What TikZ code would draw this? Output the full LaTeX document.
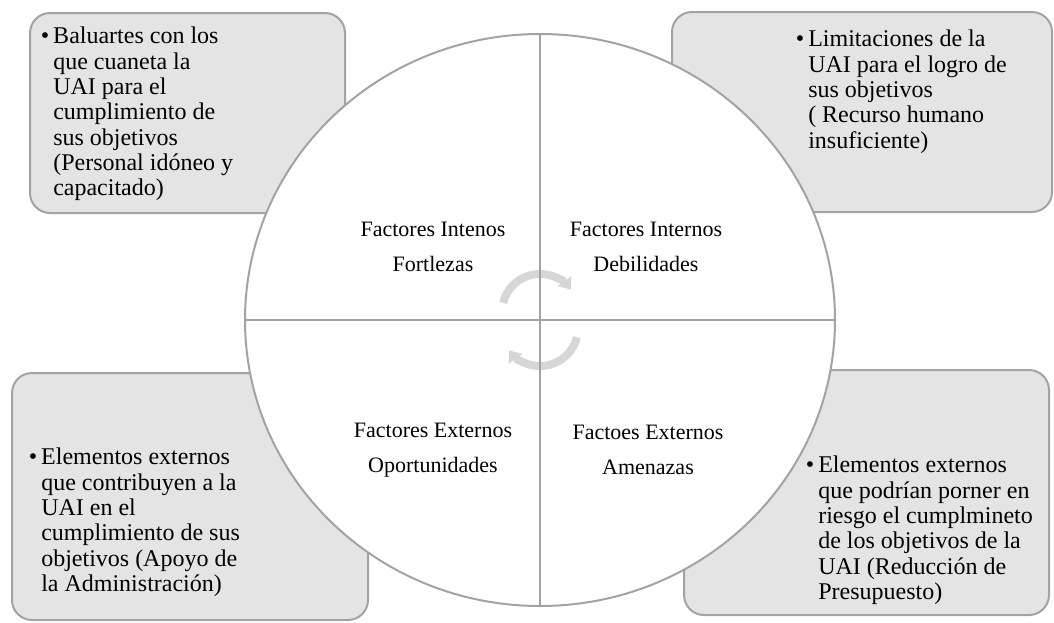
\documentclass[tikz,border=0pt]{standalone}
\usepackage{fontspec}
\setmainfont{Liberation Serif}
\usetikzlibrary{arrows.meta}
\definecolor{boxfill}{HTML}{E4E4E4}
\definecolor{edgegray}{HTML}{A3A3A3}
\definecolor{arrowgray}{HTML}{D6D6D6}
\newcommand\bul{\llap{\textbullet\kern3pt}}
\begin{document}
\begin{tikzpicture}[x=0.75pt,y=0.75pt,
  cbox/.style={draw=edgegray, fill=boxfill, line width=1.5pt, rounded corners=15pt, inner sep=0pt, outer sep=0pt, anchor=north west},
  btext/.style={anchor=north west, inner sep=0pt, align=left, font=\fontsize{18}{19}\selectfont, text=black},
  qtext/.style={align=center, inner sep=0pt, font=\fontsize{16.5}{26}\selectfont, text=black},
  edgeline/.style={draw=edgegray, line width=1.5pt},
  cyc/.style={draw=arrowgray, line width=6pt, -{Triangle[width=12.5pt,length=8pt]}}]
\useasboundingbox (0,0) rectangle (1054,-622);
% corner boxes
\node[cbox, minimum width=315*0.75pt, minimum height=200*0.75pt] (boxTL) at (30,-13) {};
\node[cbox, minimum width=380*0.75pt, minimum height=200*0.75pt] (boxTR) at (672,-12) {};
\node[cbox, minimum width=356*0.75pt, minimum height=247*0.75pt] (boxBL) at (12,-373) {};
\node[cbox, minimum width=365*0.75pt, minimum height=245*0.75pt] (boxBR) at (684,-370) {};
% circle
\draw[edgeline, fill=white] (540,-320) ellipse [x radius=295, y radius=286];
% cycle arrows (under the dividing lines)
\draw[cyc] (540,-312) ++(166:38) arc[start angle=166, end angle=36, radius=38];
\draw[cyc] (540,-328) ++(-14:38) arc[start angle=-14, end angle=-144, radius=38];
% dividing lines
\draw[edgeline] (540,-34) -- (540,-606);
\draw[edgeline] (245,-320) -- (835,-320);
% box texts
\node[btext] (tTL) at (53,-27) {\bul Baluartes con los\\ que cuaneta la\\ UAI para el\\ cumplimiento de\\ sus objetivos\\ (Personal idóneo y\\ capacitado)};
\node[btext] (tTR) at (808,-30) {\bul Limitaciones de la\\ UAI para el logro de\\ sus objetivos\\ ( Recurso humano\\ insuficiente)};
\node[btext] (tBL) at (41,-448) {\bul Elementos externos\\ que contribuyen a la\\ UAI en el\\ cumplimiento de sus\\ objetivos (Apoyo de\\ la Administración)};
\node[btext] (tBR) at (818,-456) {\bul Elementos externos\\ que podrían porner en\\ riesgo el cumplmineto\\ de los objetivos de la\\ UAI (Reducción de\\ Presupuesto)};
% quadrant labels
\node[qtext] (qTL) at (433,-247) {Factores Intenos\\ Fortlezas};
\node[qtext] (qTR) at (646,-247) {Factores Internos\\ Debilidades};
\node[qtext] (qBL) at (433,-450) {Factores Externos\\ Oportunidades};
\node[qtext] (qBR) at (648,-450) {Factoes Externos\\ Amenazas};
\end{tikzpicture}
\end{document}
